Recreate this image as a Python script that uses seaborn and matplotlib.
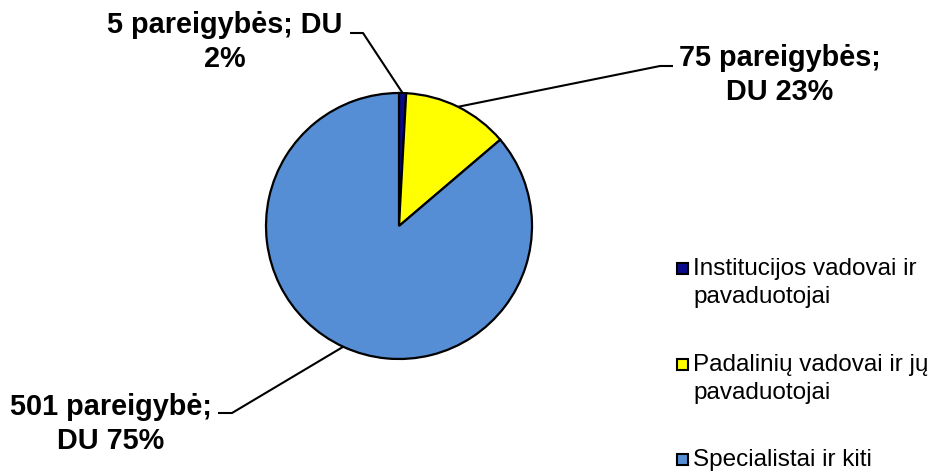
import numpy as np
import matplotlib.pyplot as plt
import seaborn as sns
from matplotlib.patches import Rectangle

# Pareigybių pasiskirstymas ir darbo užmokesčio (DU) dalis
sns.set_style("white")
plt.rcParams['font.family'] = ['Liberation Sans', 'DejaVu Sans']

groups = ["Institucijos vadovai ir\npavaduotojai",
          "Padalinių vadovai ir jų\npavaduotojai",
          "Specialistai ir kiti"]
positions = [5, 75, 501]
du_share = [2, 23, 75]
labels = ["5 pareigybės; DU\n2%",
          "75 pareigybės;\nDU 23%",
          "501 pareigybė;\nDU 75%"]
colors = ["#0A0A8C", "#FFFF00", "#558ED5"]

W, H = 933, 472
fig = plt.figure(figsize=(W / 100, H / 100), dpi=100)
ax = fig.add_axes([0, 0, 1, 1])

cx, cy, r = 399, H - 226, 133
wedges, _ = ax.pie(positions, colors=colors, startangle=90, counterclock=False,
                   center=(cx, cy), radius=r,
                   wedgeprops=dict(edgecolor="black", linewidth=1.6))
ax.set_xlim(0, W)
ax.set_ylim(0, H)
ax.set_aspect("equal")
ax.axis("off")

# etikečių vietos (paveikslo koordinatės, y žemyn)
label_xy = [(225, 42), (780, 75), (111, 424)]
elbows = [[(363, 33), (350, 33)],
          [(660, 66), (673, 66)],
          [(232, 413), (218, 413)]]

for w, txt, (lx, ly), elb in zip(wedges, labels, label_xy, elbows):
    ang = np.deg2rad((w.theta1 + w.theta2) / 2)
    sx, sy = cx + r * np.cos(ang), cy + r * np.sin(ang)
    xs = [sx] + [p[0] for p in elb]
    ys = [sy] + [H - p[1] for p in elb]
    ax.plot(xs, ys, color="black", lw=1.5, solid_capstyle="butt")
    ax.text(lx, H - ly, txt, ha="center", va="center", fontsize=20.8,
            fontweight="bold", linespacing=1.25, color="black")

# legenda
leg_y = [268, 364, 459]
for g, c, y in zip(groups, colors, leg_y):
    ax.add_patch(Rectangle((677, H - y - 6), 11, 11, facecolor=c,
                           edgecolor="black", lw=1.5))
    ax.text(693, H - y + 10, g, ha="left", va="top", fontsize=17.5,
            linespacing=1.35, color="black")

fig.savefig("out.png", dpi=100)
